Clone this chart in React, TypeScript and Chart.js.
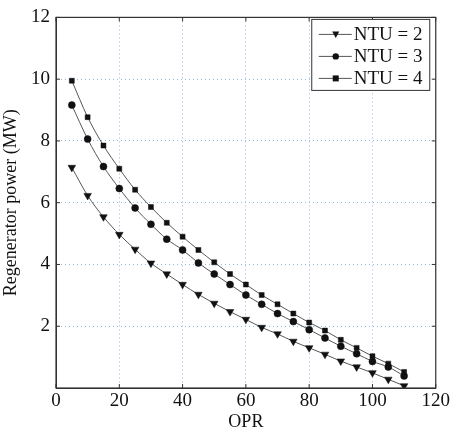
import React, { useEffect, useRef } from "react";
import { Chart, registerables } from "chart.js";

Chart.register(...registerables);

const opr = [5, 10, 15, 20, 25, 30, 35, 40, 45, 50, 55, 60, 65, 70, 75, 80, 85, 90, 95, 100, 105, 110];
const ntu2 = [7.14, 6.23, 5.54, 4.97, 4.49, 4.04, 3.69, 3.35, 3.03, 2.74, 2.47, 2.22, 1.96, 1.75, 1.51, 1.3, 1.09, 0.87, 0.68, 0.49, 0.28, 0.07];
const ntu3 = [9.16, 8.06, 7.17, 6.46, 5.83, 5.3, 4.82, 4.47, 4.05, 3.69, 3.35, 3.01, 2.71, 2.41, 2.15, 1.89, 1.62, 1.35, 1.11, 0.86, 0.68, 0.39];
const ntu4 = [9.95, 8.77, 7.85, 7.1, 6.42, 5.86, 5.35, 4.9, 4.47, 4.07, 3.69, 3.35, 3.01, 2.71, 2.41, 2.12, 1.86, 1.56, 1.3, 1.03, 0.79, 0.52];
const seriesLabels = ["NTU = 2", "NTU = 3", "NTU = 4"];
const xTicks = [0, 20, 40, 60, 80, 100, 120];
const yTicks = [2, 4, 6, 8, 10, 12];

const FONT = "'Liberation Serif', 'DejaVu Serif', serif";

const boxPlugin = {
  id: "boxPlugin",
  afterDatasetsDraw(chart: any) {
    const { ctx, chartArea: a, scales } = chart;
    ctx.save();
    ctx.strokeStyle = "#333";
    ctx.lineWidth = 1.2;
    ctx.strokeRect(a.left, a.top, a.right - a.left, a.bottom - a.top);
    ctx.lineWidth = 1;
    const tl = 4;
    xTicks.forEach((v) => {
      const x = scales.x.getPixelForValue(v);
      ctx.beginPath();
      ctx.moveTo(x, a.bottom);
      ctx.lineTo(x, a.bottom - tl);
      ctx.moveTo(x, a.top);
      ctx.lineTo(x, a.top + tl);
      ctx.stroke();
    });
    yTicks.forEach((v) => {
      const y = scales.y.getPixelForValue(v);
      ctx.beginPath();
      ctx.moveTo(a.left, y);
      ctx.lineTo(a.left + tl, y);
      ctx.moveTo(a.right, y);
      ctx.lineTo(a.right - tl, y);
      ctx.stroke();
    });
    // legend
    const lx = a.right - 124;
    const ly = a.top + 2;
    const lw = 118;
    const lh = 71;
    ctx.fillStyle = "#fff";
    ctx.fillRect(lx, ly, lw, lh);
    ctx.strokeStyle = "#333";
    ctx.strokeRect(lx, ly, lw, lh);
    const styles = ["triangle", "circle", "rect"];
    chart.data.datasets.forEach((ds: any, i: number) => {
      const cy = ly + 15 + i * 22;
      ctx.strokeStyle = "#555";
      ctx.lineWidth = 1;
      ctx.beginPath();
      ctx.moveTo(lx + 7, cy);
      ctx.lineTo(lx + 40, cy);
      ctx.stroke();
      ctx.fillStyle = "#111";
      const mx = lx + 24;
      ctx.beginPath();
      if (styles[i] === "triangle") {
        ctx.moveTo(mx - 3.5, cy - 3);
        ctx.lineTo(mx + 3.5, cy - 3);
        ctx.lineTo(mx, cy + 3.5);
        ctx.closePath();
      } else if (styles[i] === "circle") {
        ctx.arc(mx, cy, 3.2, 0, Math.PI * 2);
      } else {
        ctx.rect(mx - 3, cy - 3, 6, 6);
      }
      ctx.fill();
      ctx.fillStyle = "#111";
      ctx.font = "19px " + FONT;
      ctx.textBaseline = "middle";
      ctx.textAlign = "left";
      ctx.fillText(ds.label, lx + 42, cy + 1);
    });
    ctx.restore();
  },
};

export default function App() {
  const ref = useRef<HTMLCanvasElement>(null);
  useEffect(() => {
    const mk = (label: string, data: number[], style: string, rot: number, r: number) => ({
      label,
      data: opr.map((x, i) => ({ x, y: data[i] })),
      borderColor: "#555",
      borderWidth: 1,
      backgroundColor: "#111",
      pointBackgroundColor: "#111",
      pointBorderColor: "#111",
      pointBorderWidth: 0.5,
      pointStyle: style,
      pointRotation: rot,
      pointRadius: r,
      cubicInterpolationMode: "monotone",
      fill: false,
    });
    const chart = new Chart(ref.current!, {
      type: "line",
      data: {
        datasets: [
          mk(seriesLabels[0], ntu2, "triangle", 180, 4.4),
          mk(seriesLabels[1], ntu3, "circle", 0, 3.5),
          mk(seriesLabels[2], ntu4, "rect", 0, 3.5),
        ] as any,
      },
      options: {
        animation: false,
        responsive: false,
        layout: { padding: { top: 13, right: 15, left: 0, bottom: 0 } },
        plugins: { legend: { display: false }, tooltip: { enabled: false } },
        scales: {
          x: {
            type: "linear",
            min: 0,
            max: 120,
            afterBuildTicks: (s: any) => {
              s.ticks = xTicks.map((v) => ({ value: v }));
            },
            afterFit: (s: any) => {
              s.height = 45;
            },
            ticks: { color: "#111", font: { family: FONT, size: 19 }, padding: 2, maxRotation: 0 },
            grid: { color: "#8fb8e4", lineWidth: 1, drawTicks: false } as any,
            border: { display: true, color: "#333", dash: [1, 3] } as any,
            title: { display: true, text: "OPR", color: "#111", font: { family: FONT, size: 18 }, padding: { top: -5, bottom: 0 } },
          },
          y: {
            type: "linear",
            min: 0,
            max: 12,
            afterBuildTicks: (s: any) => {
              s.ticks = yTicks.map((v) => ({ value: v }));
            },
            afterFit: (s: any) => {
              s.width = 56;
            },
            ticks: { color: "#111", font: { family: FONT, size: 19 }, padding: 6 },
            grid: { color: "#8fb8e4", lineWidth: 1, drawTicks: false } as any,
            border: { display: true, color: "#333", dash: [1, 3] } as any,
            title: { display: true, text: "Regenerator power (MW)", color: "#111", font: { family: FONT, size: 18 }, padding: { top: 0, bottom: 4 } },
          },
        },
      } as any,
      plugins: [boxPlugin],
    });
    return () => chart.destroy();
  }, []);
  return (
    <div style={{ position: "fixed", left: 0, top: 0, width: 452, height: 433, background: "#fff" }}>
      <canvas ref={ref} width={452} height={433} />
    </div>
  );
}
